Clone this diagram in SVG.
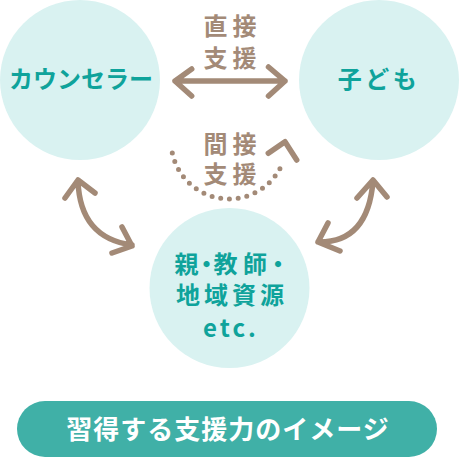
<svg xmlns="http://www.w3.org/2000/svg" width="459" height="458" viewBox="0 0 459 458">
<style>
.circ{fill:#d9f2f1}
.nt{font-family:"Noto Sans CJK JP","Noto Sans",sans-serif;font-weight:700;font-size:24px;fill:#0fa39b;text-anchor:middle}
.lab{font-family:"Noto Sans CJK JP","Noto Sans",sans-serif;font-weight:700;font-size:24px;fill:#a38a77;text-anchor:middle;letter-spacing:5px}
.arr{fill:none;stroke:#a38a77;stroke-width:5.5;stroke-linecap:round;stroke-linejoin:round}
.dot{fill:none;stroke:#a38a77;stroke-width:5;stroke-linecap:round;stroke-dasharray:0 8.8}
.btn{fill:#40b0a7}
.bt{font-family:"Noto Sans CJK JP","Noto Sans",sans-serif;font-weight:700;font-size:26px;fill:#ffffff;text-anchor:middle;letter-spacing:1px}
</style>
<rect width="459" height="458" fill="#ffffff"/>
<g id="counselor">
<circle class="circ" cx="80" cy="80" r="80"/>
<text class="nt" x="81" y="88">カウンセラー</text>
</g>
<g id="child">
<circle class="circ" cx="379" cy="80" r="80"/>
<text class="nt" x="379" y="88" style="letter-spacing:3.5px">子ども</text>
</g>
<g id="others">
<circle class="circ" cx="229.5" cy="288" r="80"/>
<text class="nt" x="186.5 206.5 225.5 255 278" y="273">親・教師・</text>
<text class="nt" x="188 216 244 272" y="304">地域資源</text>
<text class="nt" x="231" y="337" style="letter-spacing:3px">etc.</text>
</g>
<g id="connectors">
<text class="lab" x="232.5" y="34.6">直接</text>
<text class="lab" x="232.5" y="67">支援</text>
<path class="arr" d="M175,81 H285 M191.7,69 L175,81 L191.7,96 M268.5,67 L285,81 L268.5,96"/>
<text class="lab" x="232.5" y="152.6">間接</text>
<text class="lab" x="232.5" y="182.6">支援</text>
<path class="dot" d="M172.3,153.1 A58,58 0 0 0 283.5,160.8"/>
<path class="arr" d="M268.3,153.3 L285,141.7 L296.7,160"/>
<path class="arr" d="M78,181 Q80,238 132,245 M65,198 L78,180 L95,193 M122,227 L132,246 L112,253"/>
<path class="arr" d="M373,181 Q368,243 318,242 M357,198 L373,180 L387,197 M328,223 L318,242 L340,251"/>
</g>
<g id="caption">
<rect class="btn" x="17" y="401" width="420" height="56" rx="28"/>
<text class="bt" x="228" y="439">習得する支援力のイメージ</text>
</g>
</svg>
